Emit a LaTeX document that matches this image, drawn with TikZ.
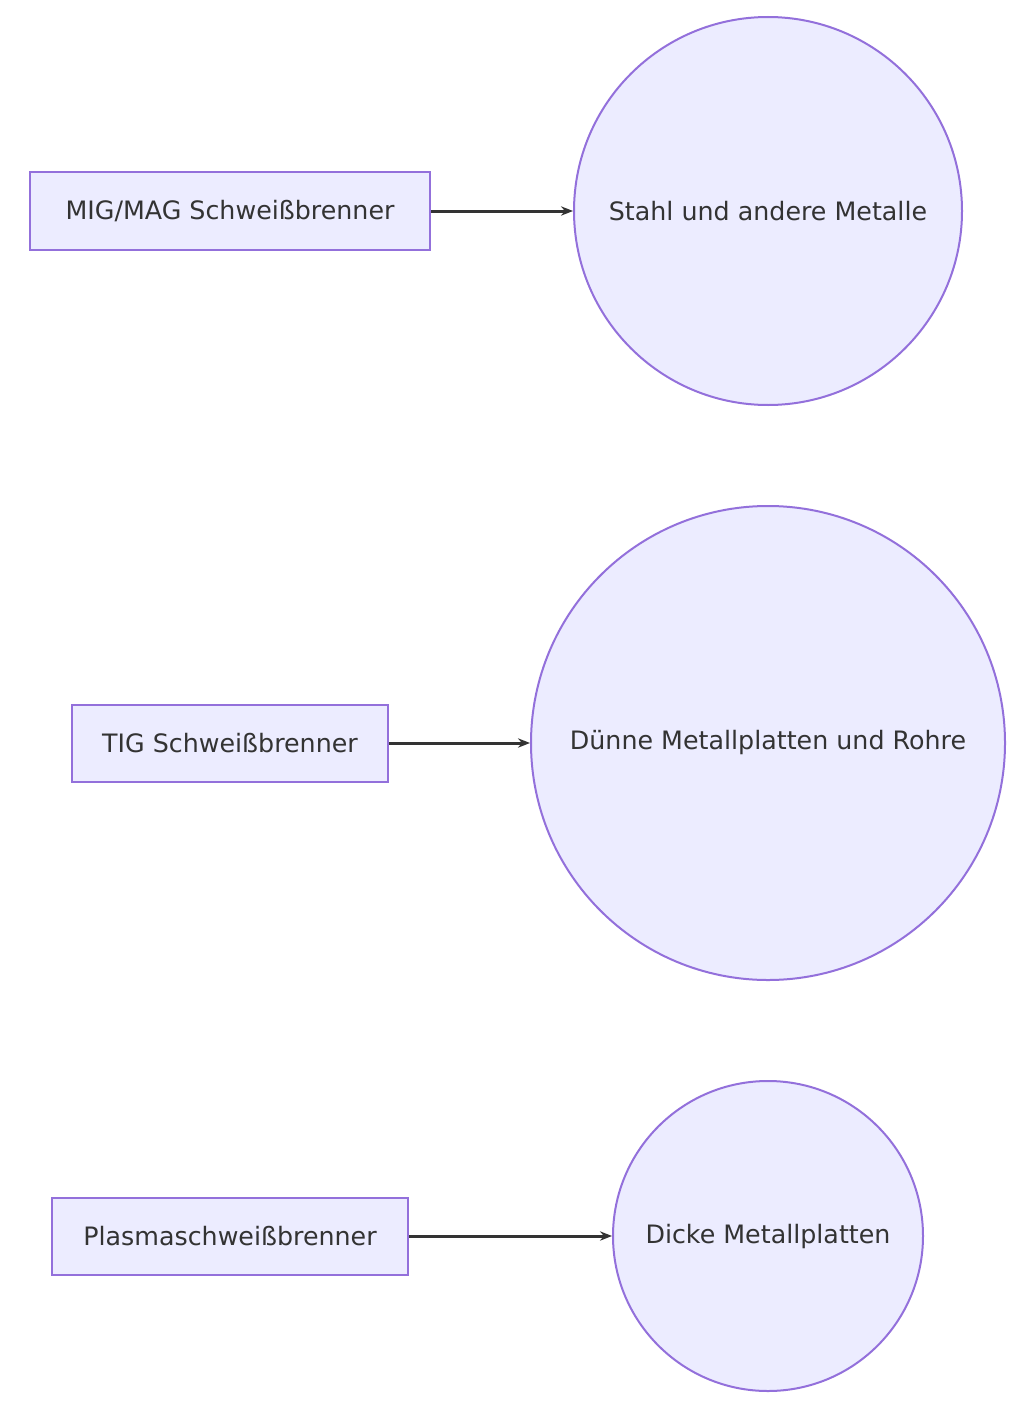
\documentclass[tikz,border=0pt]{standalone}
\usepackage{fontspec}
\setmainfont{DejaVu Sans}
\usetikzlibrary{arrows.meta}
\definecolor{mfill}{HTML}{ECECFF}
\definecolor{mline}{HTML}{9370DB}
\definecolor{marrow}{HTML}{333333}
\tikzset{every picture/.style={line width=0.75pt}}
\tikzset{
torch/.style={draw=mline,fill=mfill,line width=1.5pt,minimum height=57.75pt,inner xsep=10pt,font=\fontsize{19}{23}\selectfont,text=marrow},
use/.style={circle,draw=mline,fill=mfill,line width=1.5pt,inner sep=0pt,font=\fontsize{19}{23}\selectfont,text=marrow},
flow/.style={draw=marrow,line width=2.25pt,-{Stealth[length=9pt,width=7pt]}}
}
\begin{document}
\begin{tikzpicture}[x=0.75pt,y=0.75pt,yscale=-1,xscale=1]
\useasboundingbox (0,0) rectangle (1025,1402);
% torches
\node[torch,minimum width=300pt] (mig) at (230,211) {MIG/MAG Schweißbrenner};
\node[torch,minimum width=237pt] (tig) at (230,743) {TIG Schweißbrenner};
\node[torch,minimum width=267pt] (plasma) at (230,1236) {Plasmaschweißbrenner};
% applications
\node[use,minimum size=291pt] (stahl) at (768,211) {Stahl und andere Metalle};
\node[use,minimum size=355.5pt] (duenn) at (768,743) {Dünne Metallplatten und Rohre};
\node[use,minimum size=232.5pt] (dick) at (768,1236) {Dicke Metallplatten};
% connectors
\draw[flow] (mig) -- (stahl);
\draw[flow] (tig) -- (duenn);
\draw[flow] (plasma) -- (dick);
\end{tikzpicture}
\end{document}
